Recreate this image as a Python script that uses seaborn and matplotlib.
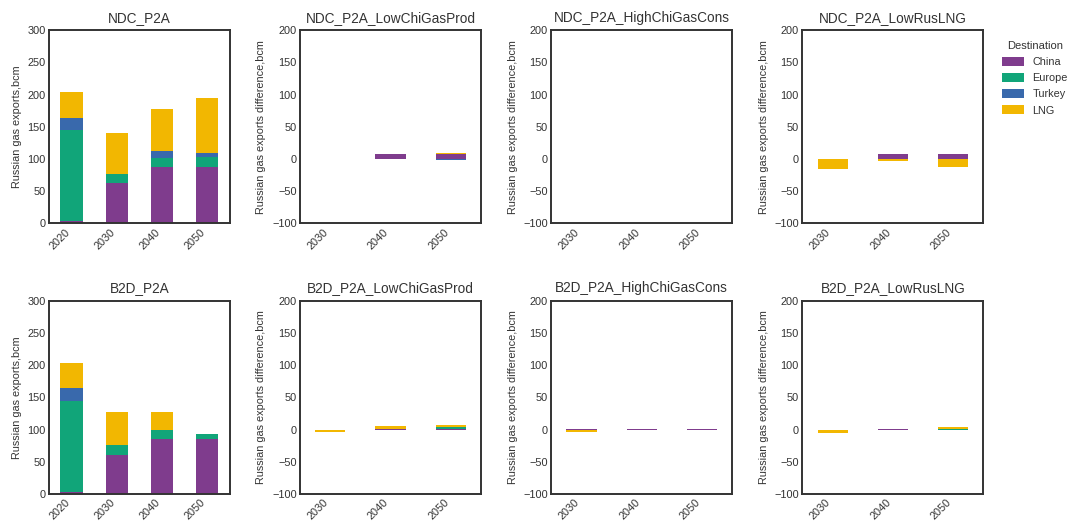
import numpy as np
import pandas as pd
import matplotlib
matplotlib.use("Agg")
import matplotlib.pyplot as plt
import seaborn as sns
from matplotlib.patches import Patch

sns.set_theme(style="white")
plt.rcParams["font.family"] = ["Liberation Sans", "DejaVu Sans"]

destinations = ["China", "Europe", "Turkey", "LNG"]
colors = ["#7F3C8D", "#11A579", "#3969AC", "#F2B701"]

years_base = ["2020", "2030", "2040", "2050"]
years_diff = ["2030", "2040", "2050"]

# Base scenarios (bcm), per destination across years_base
ndc_china = [4, 62, 87, 88]
ndc_europe = [141, 14, 15, 15]
ndc_turkey = [19, 0, 11, 7]
ndc_lng = [40, 65, 64, 84]

b2d_china = [3, 61, 85, 85]
b2d_europe = [142, 15, 15, 8]
b2d_turkey = [19, 0, 0, 0]
b2d_lng = [39, 52, 27, 0]

# Differences vs base (bcm), per destination across years_diff
ndc_lowchi_china = [0, 7, 7]
ndc_lowchi_europe = [0, 0, 0]
ndc_lowchi_turkey = [0, 0, -2]
ndc_lowchi_lng = [0, 0, 2.5]

ndc_highchi_china = [0, 0, 0]
ndc_highchi_europe = [0, 0, 0]
ndc_highchi_turkey = [0, 0, 0]
ndc_highchi_lng = [0, 0, 0.6]

ndc_lowlng_china = [0, 7, 7]
ndc_lowlng_europe = [0, 0, 0]
ndc_lowlng_turkey = [0, 0, 0]
ndc_lowlng_lng = [-15, -3.5, -12]

b2d_lowchi_china = [-0.8, 1.5, 1.5]
b2d_lowchi_europe = [0, 0, 2.5]
b2d_lowchi_turkey = [0, 0, 0]
b2d_lowchi_lng = [-2.5, 4.5, 3]

b2d_highchi_china = [1.2, 1.2, 1.2]
b2d_highchi_europe = [0, 0, 0]
b2d_highchi_turkey = [0, 0, 0]
b2d_highchi_lng = [-3.5, 0, 0]

b2d_lowlng_china = [-1, 0.8, 0]
b2d_lowlng_europe = [0, 0, 1.2]
b2d_lowlng_turkey = [0, 0, 0]
b2d_lowlng_lng = [-4, 0, 3.5]

panels = [
    ("NDC_P2A", years_base, [ndc_china, ndc_europe, ndc_turkey, ndc_lng], False),
    ("NDC_P2A_LowChiGasProd", years_diff, [ndc_lowchi_china, ndc_lowchi_europe, ndc_lowchi_turkey, ndc_lowchi_lng], True),
    ("NDC_P2A_HighChiGasCons", years_diff, [ndc_highchi_china, ndc_highchi_europe, ndc_highchi_turkey, ndc_highchi_lng], True),
    ("NDC_P2A_LowRusLNG", years_diff, [ndc_lowlng_china, ndc_lowlng_europe, ndc_lowlng_turkey, ndc_lowlng_lng], True),
    ("B2D_P2A", years_base, [b2d_china, b2d_europe, b2d_turkey, b2d_lng], False),
    ("B2D_P2A_LowChiGasProd", years_diff, [b2d_lowchi_china, b2d_lowchi_europe, b2d_lowchi_turkey, b2d_lowchi_lng], True),
    ("B2D_P2A_HighChiGasCons", years_diff, [b2d_highchi_china, b2d_highchi_europe, b2d_highchi_turkey, b2d_highchi_lng], True),
    ("B2D_P2A_LowRusLNG", years_diff, [b2d_lowlng_china, b2d_lowlng_europe, b2d_lowlng_turkey, b2d_lowlng_lng], True),
]

fig, axes = plt.subplots(2, 4, figsize=(10.71, 5.28), dpi=100)
fig.subplots_adjust(left=0.0458, right=0.918, top=0.943, bottom=0.0644,
                    wspace=0.39, hspace=0.40)

text_color = "#333333"
for ax, (title, years, series, is_diff) in zip(axes.flat, panels):
    pos_bottom = np.zeros(len(years))
    neg_bottom = np.zeros(len(years))
    for name, vals, col in zip(destinations, series, colors):
        vals = np.asarray(vals, dtype=float)
        bottom = np.where(vals >= 0, pos_bottom, neg_bottom)
        df = pd.DataFrame({"Year": years, "Value": vals})
        sns.barplot(data=df, x="Year", y="Value", order=years, color=col,
                    saturation=1, width=0.5, errorbar=None, bottom=bottom,
                    edgecolor="none", linewidth=0, ax=ax)
        pos_bottom = pos_bottom + np.where(vals > 0, vals, 0)
        neg_bottom = neg_bottom + np.where(vals < 0, vals, 0)
    ax.set_title(title, fontsize=9.8, color=text_color, pad=6, y=1.0)
    ax.set_xlabel("")
    if is_diff:
        ax.set_ylim(-100, 200)
        ax.set_yticks(np.arange(-100, 201, 50))
        ax.set_ylabel("Russian gas exports difference,bcm", fontsize=7.8, color=text_color)
    else:
        ax.set_ylim(0, 300)
        ax.set_yticks(np.arange(0, 301, 50))
        ax.set_ylabel("Russian gas exports,bcm", fontsize=7.8, color=text_color)
    ax.set_xlim(-0.5, len(years) - 0.5)
    ax.tick_params(axis="both", labelsize=7.9, colors=text_color, length=0, pad=2.5)
    for lbl in ax.get_xticklabels():
        lbl.set_rotation(45)
        lbl.set_ha("right")
        lbl.set_rotation_mode("default")
    for sp in ax.spines.values():
        sp.set_color("#333333")
        sp.set_linewidth(1.4)

handles = [Patch(facecolor=c, edgecolor="none", label=n)
           for n, c in zip(destinations, colors)]
leg = axes[0, 3].legend(handles=handles, title="Destination", loc="upper left",
                        bbox_to_anchor=(1.05, 0.995), frameon=False,
                        fontsize=7.8, title_fontsize=8.0,
                        handlelength=2.0, handleheight=0.9, labelspacing=0.55,
                        handletextpad=0.8)
for t in leg.get_texts():
    t.set_color(text_color)
leg.get_title().set_color(text_color)

fig.savefig("out.png", dpi=100)
